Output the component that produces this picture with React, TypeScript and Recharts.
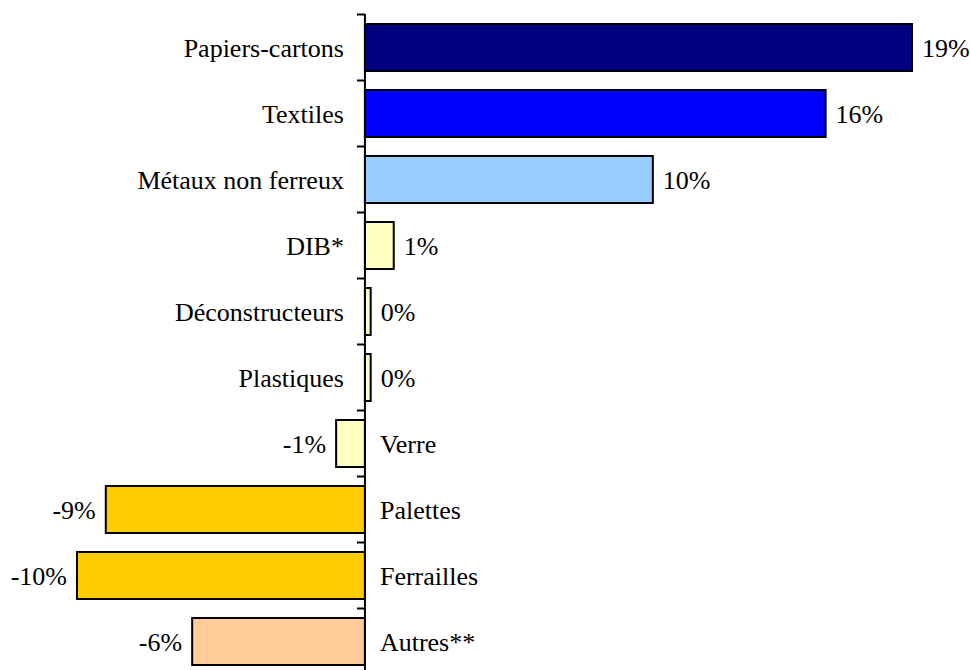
import { BarChart, Bar, XAxis, YAxis, Cell, LabelList, ReferenceLine } from "recharts";

const categories = [
  "Papiers-cartons",
  "Textiles",
  "Métaux non ferreux",
  "DIB*",
  "Déconstructeurs",
  "Plastiques",
  "Verre",
  "Palettes",
  "Ferrailles",
  "Autres**",
];

const growth = [19, 16, 10, 1, 0.2, 0.2, -1, -9, -10, -6];

const COLORS = [
  "#000080",
  "#0000FF",
  "#99CCFF",
  "#FFFFC0",
  "#FFFFC0",
  "#FFFFC0",
  "#FFFFC0",
  "#FFCC00",
  "#FFCC00",
  "#FFCC99",
];

const data = categories.map((name, i) => ({ name, value: growth[i] }));

const textStyle = {
  fontFamily: "'Liberation Serif', 'Times New Roman', serif",
  fontSize: 26,
};

// category name on the opposite side of zero, value at bar end, tick mark on the axis
function BarLabel(props: any) {
  const { x, y, width, height, value, index } = props;
  const a = Number(x);
  const b = Number(x) + Number(width);
  const cy = Number(y) + Number(height) / 2;
  const positive = value >= 0;
  const zeroX = positive ? Math.min(a, b) : Math.max(a, b);
  const endX = positive ? Math.max(a, b) : Math.min(a, b);
  const gap = (66 - Number(height)) / 2;
  const tickY = Number(y) - gap;
  return (
    <g>
      <line x1={zeroX - 8} x2={zeroX} y1={tickY} y2={tickY} stroke="#000" strokeWidth={2} />
      <text
        x={positive ? zeroX - 21 : zeroX + 15}
        y={cy}
        dy="0.35em"
        textAnchor={positive ? "end" : "start"}
        style={textStyle}
        fill="#000"
      >
        {categories[index]}
      </text>
      <text
        x={positive ? endX + 10 : endX - 10}
        y={cy}
        dy="0.35em"
        textAnchor={positive ? "start" : "end"}
        style={textStyle}
        fill="#000"
      >
        {`${Math.round(value)}%`}
      </text>
    </g>
  );
}

export default function App() {
  return (
    <div
      style={{
        position: "fixed",
        left: 0,
        top: 0,
        width: 970,
        height: 670,
        overflow: "hidden",
        background: "#fff",
      }}
    >
      <BarChart
        width={970}
        height={680}
        data={data}
        layout="vertical"
        margin={{ top: 14, right: 58, bottom: 6, left: 77 }}
      >
        <XAxis type="number" domain={[-10, 19]} hide />
        <YAxis type="category" dataKey="name" hide width={0} />
        <Bar
          dataKey="value"
          barSize={47}
          stroke="#000"
          strokeWidth={2}
          isAnimationActive={false}
        >
          {data.map((_, i) => (
            <Cell key={i} fill={COLORS[i]} />
          ))}
          <LabelList dataKey="value" content={BarLabel} />
        </Bar>
        <ReferenceLine x={0} stroke="#000" strokeWidth={2} />
      </BarChart>
    </div>
  );
}
